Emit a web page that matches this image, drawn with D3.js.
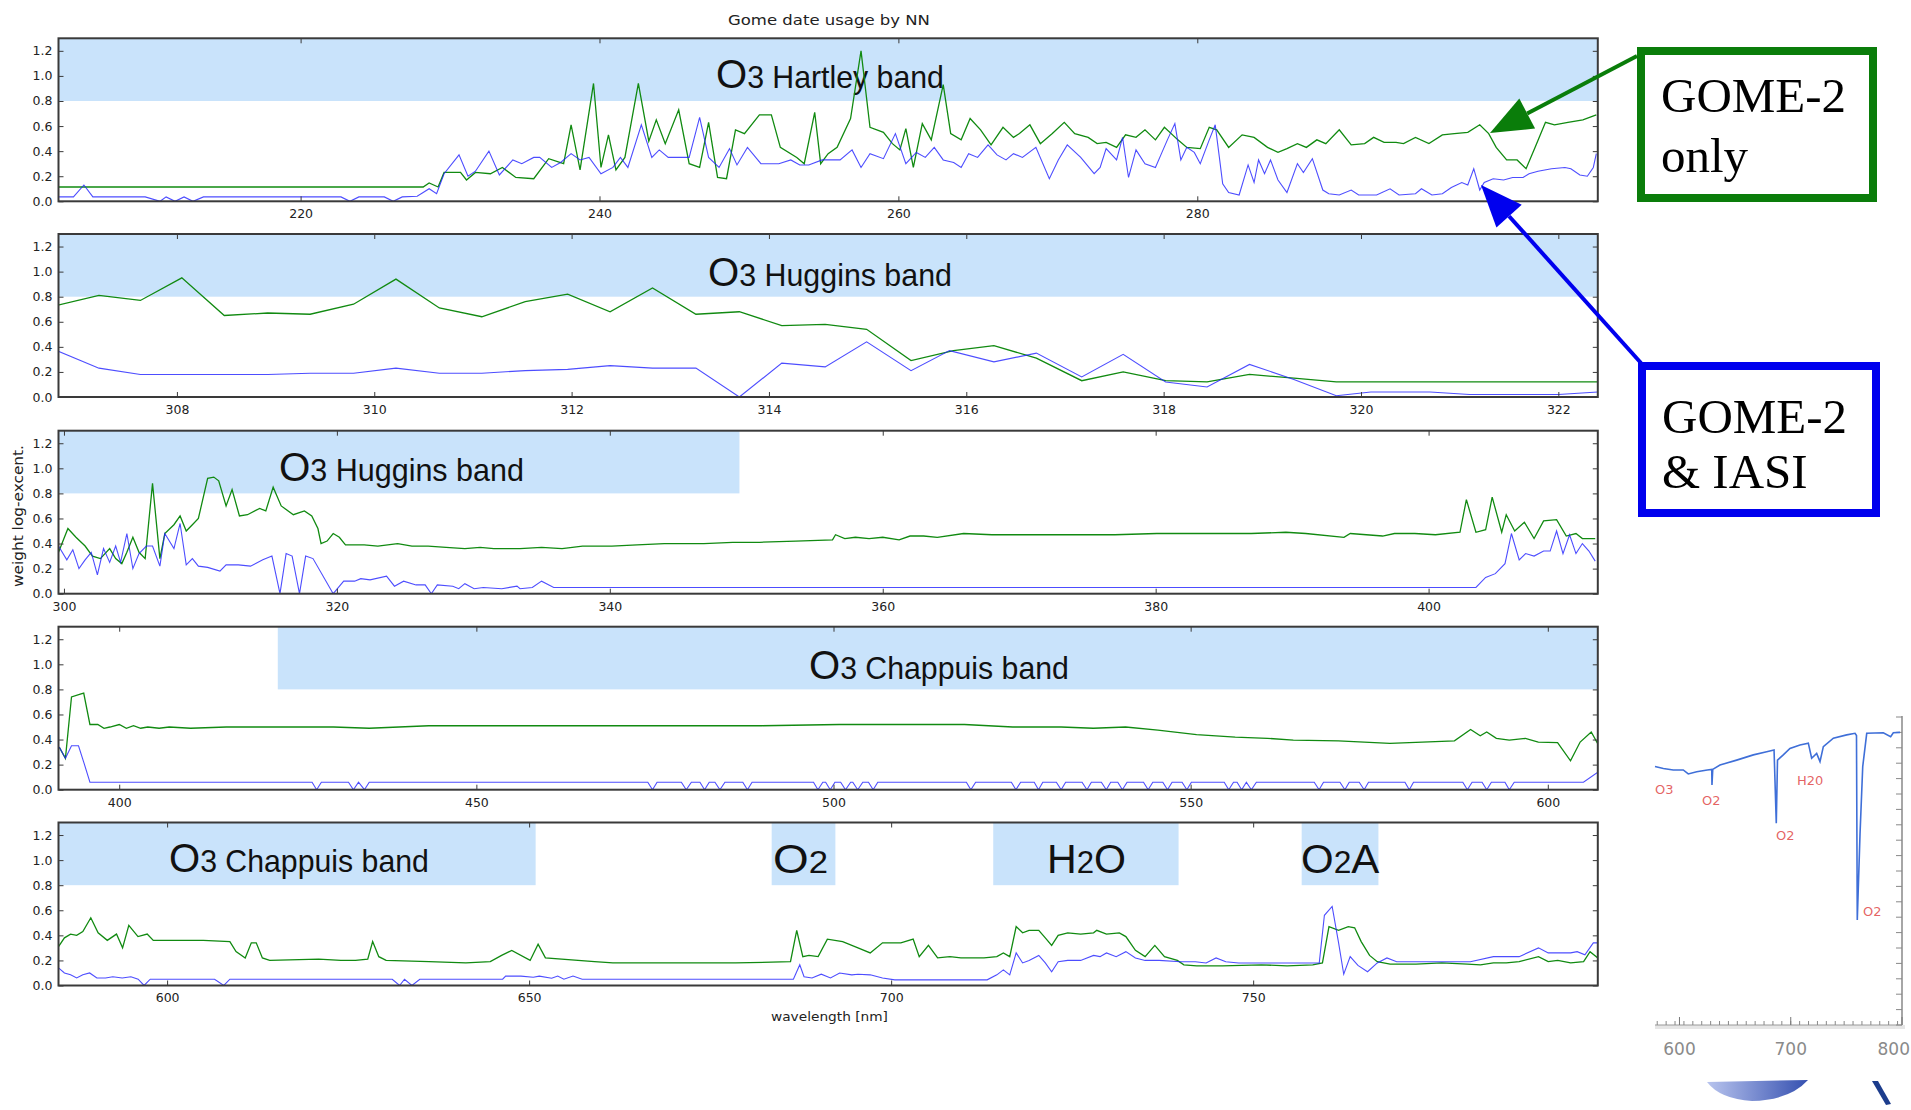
<!DOCTYPE html>
<html><head><meta charset="utf-8">
<script src="https://cdn.jsdelivr.net/npm/d3@7"></script>
<style>html,body{margin:0;padding:0;background:#fff;overflow:hidden}</style>
</head><body>
<svg id="c" width="1911" height="1110"></svg>
<script>
// ---------------- DATA ----------------
const titleText = "Gome date usage by NN";
const yLabelText = "weight log-excent.";
const xLabelText = "wavelength [nm]";
const yTicks = [0.0, 0.2, 0.4, 0.6, 0.8, 1.0, 1.2];
const yDomain = [0, 1.3];
const bandRange = [0.8, 1.3];

const p1Domain = [203.8, 306.8];
const p1Ticks = [220, 240, 260, 280];
const p1Bands = [[203.8, 306.8]];
const p2Domain = [306.8, 322.4];
const p2Ticks = [308, 310, 312, 314, 316, 318, 320, 322];
const p2Bands = [[306.8, 322.4]];
const p3Domain = [299.6, 412.4];
const p3Ticks = [300, 320, 340, 360, 380, 400];
const p3Bands = [[299.6, 349.5]];
const p4Domain = [391.5, 607];
const p4Ticks = [400, 450, 500, 550, 600];
const p4Bands = [[422.2, 607]];
const p5Domain = [585, 797.6];
const p5Ticks = [600, 650, 700, 750];
const p5Bands = [[585, 650.9], [683.5, 692.3], [714.1, 739.7], [756.7, 767.3]];

const labelHartley = [["O", 1], ["3 Hartley band", 0]];
const labelHuggins = [["O", 1], ["3 Huggins band", 0]];
const labelChappuis = [["O", 1], ["3 Chappuis band", 0]];
const labelO2 = [["O", 1], ["2", 0]];
const labelH2O = [["H", 1], ["2", 0], ["O", 1]];
const labelO2A = [["O", 1], ["2", 0], ["A", 1]];

const p1Green = [[203.8,0.114],[228.2,0.114],[228.6,0.146],[229.2,0.114],[229.6,0.23],[230.7,0.23],[231.1,0.17],[231.7,0.23],[232.7,0.22],[233.5,0.27],[234.4,0.19],[235.6,0.18],[236.6,0.34],[237.6,0.30],[238.1,0.61],[238.7,0.25],[239.6,0.94],[240.1,0.27],[240.6,0.53],[241.1,0.25],[241.7,0.35],[242.6,0.94],[243.3,0.48],[243.8,0.65],[244.4,0.46],[245.3,0.73],[246.0,0.30],[246.7,0.27],[247.3,0.63],[247.9,0.19],[248.5,0.18],[249.1,0.57],[249.7,0.54],[250.7,0.69],[251.5,0.69],[252.1,0.43],[253.2,0.35],[253.7,0.30],[254.4,0.71],[254.8,0.30],[255.3,0.38],[255.9,0.43],[256.8,0.66],[257.5,1.20],[258.1,0.59],[259.0,0.55],[259.6,0.46],[260.1,0.41],[260.5,0.58],[261.0,0.27],[261.6,0.62],[262.2,0.49],[263.0,0.93],[263.5,0.54],[264.2,0.49],[264.8,0.66],[265.5,0.57],[266.2,0.45],[267.0,0.59],[267.7,0.51],[268.1,0.54],[268.8,0.61],[269.5,0.46],[270.3,0.54],[271.1,0.63],[271.8,0.54],[272.7,0.51],[273.3,0.46],[273.9,0.47],[274.6,0.43],[275.2,0.53],[275.9,0.51],[276.5,0.57],[277.2,0.49],[277.8,0.59],[278.7,0.49],[279.3,0.43],[280.2,0.42],[280.8,0.59],[281.3,0.57],[282.1,0.43],[283.0,0.53],[283.8,0.51],[284.7,0.43],[285.4,0.39],[286.0,0.42],[286.7,0.46],[287.3,0.43],[288.0,0.49],[288.6,0.46],[289.5,0.57],[290.3,0.45],[291.2,0.46],[291.8,0.51],[292.5,0.47],[293.3,0.47],[293.8,0.46],[294.6,0.51],[295.5,0.46],[296.4,0.53],[297.2,0.54],[298.1,0.55],[298.9,0.61],[299.5,0.54],[300.0,0.43],[300.7,0.33],[301.4,0.33],[302.0,0.26],[302.6,0.43],[303.3,0.63],[303.9,0.61],[304.8,0.63],[305.8,0.65],[306.7,0.69]];
const p1Blue = [[203.8,0.035],[204.8,0.035],[205.5,0.13],[206.1,0.035],[209.6,0.035],[210.6,0.0],[211.0,0.035],[211.6,0.0],[212.2,0.035],[212.8,0.0],[213.5,0.035],[222.7,0.035],[223.3,0.0],[223.9,0.035],[225.6,0.035],[226.2,0.0],[226.8,0.035],[227.8,0.04],[228.2,0.07],[228.6,0.1],[229.1,0.06],[229.6,0.22],[230.6,0.37],[231.2,0.2],[231.7,0.24],[232.6,0.4],[233.3,0.21],[234.2,0.33],[234.8,0.3],[235.6,0.35],[236.0,0.35],[236.8,0.27],[237.4,0.31],[238.1,0.38],[238.7,0.33],[239.3,0.35],[240.1,0.22],[240.9,0.27],[241.4,0.35],[241.9,0.27],[242.8,0.61],[243.5,0.35],[244.0,0.41],[244.6,0.35],[245.4,0.35],[246.0,0.35],[246.7,0.67],[247.3,0.35],[248.0,0.27],[248.7,0.42],[249.2,0.29],[249.9,0.43],[250.8,0.3],[251.4,0.3],[252.0,0.3],[252.8,0.33],[253.4,0.29],[254.0,0.29],[254.9,0.33],[255.5,0.33],[256.1,0.33],[256.9,0.41],[257.5,0.27],[258.1,0.38],[259.0,0.34],[259.8,0.54],[260.5,0.3],[261.2,0.39],[261.8,0.35],[262.4,0.43],[263.0,0.33],[263.7,0.31],[264.2,0.27],[264.7,0.38],[265.3,0.35],[266.0,0.45],[266.6,0.37],[267.2,0.33],[267.7,0.38],[268.3,0.35],[269.2,0.43],[270.1,0.18],[270.7,0.33],[271.3,0.45],[272.2,0.35],[273.1,0.22],[273.5,0.27],[273.9,0.42],[274.6,0.33],[275.0,0.51],[275.4,0.19],[275.9,0.41],[276.5,0.3],[277.2,0.27],[277.6,0.38],[278.0,0.49],[278.5,0.62],[278.9,0.33],[279.3,0.43],[279.8,0.39],[280.2,0.3],[280.8,0.49],[281.2,0.61],[281.5,0.33],[281.7,0.14],[282.1,0.07],[282.8,0.05],[283.4,0.29],[283.8,0.15],[284.1,0.33],[284.5,0.22],[284.9,0.33],[285.4,0.17],[286.0,0.07],[286.7,0.3],[287.1,0.23],[287.7,0.34],[288.4,0.09],[288.8,0.06],[289.5,0.05],[290.3,0.09],[290.8,0.05],[292.0,0.05],[292.9,0.1],[293.5,0.05],[294.6,0.06],[295.0,0.1],[295.7,0.05],[296.4,0.06],[297.0,0.11],[297.7,0.15],[298.1,0.13],[298.5,0.26],[298.9,0.09],[299.2,0.15],[299.8,0.18],[300.5,0.17],[301.1,0.19],[301.8,0.19],[302.2,0.22],[302.8,0.24],[303.7,0.26],[304.6,0.27],[305.0,0.26],[305.6,0.21],[306.1,0.2],[306.5,0.27],[306.7,0.38]];

const p2Green = [[306.78,0.73],[307.21,0.81],[307.63,0.77],[308.05,0.95],[308.48,0.65],[308.92,0.67],[309.35,0.66],[309.79,0.74],[310.22,0.94],[310.66,0.71],[311.09,0.64],[311.53,0.76],[311.96,0.82],[312.39,0.68],[312.82,0.87],[313.26,0.66],[313.7,0.68],[314.13,0.57],[314.57,0.58],[314.99,0.54],[315.44,0.29],[315.87,0.37],[316.28,0.41],[316.71,0.31],[317.17,0.13],[317.59,0.2],[318.02,0.13],[318.44,0.12],[318.87,0.18],[319.32,0.15],[319.75,0.12],[322.4,0.12]];
const p2Blue = [[306.78,0.37],[307.21,0.23],[307.63,0.18],[308.05,0.18],[308.48,0.18],[308.92,0.18],[309.35,0.19],[309.79,0.19],[310.22,0.23],[310.66,0.19],[311.09,0.19],[311.53,0.21],[311.96,0.22],[312.39,0.25],[312.82,0.23],[313.26,0.23],[313.7,0.0],[314.13,0.27],[314.57,0.24],[314.99,0.44],[315.44,0.21],[315.83,0.37],[316.28,0.28],[316.71,0.35],[317.17,0.16],[317.59,0.34],[318.02,0.12],[318.44,0.08],[318.87,0.26],[319.32,0.14],[319.75,0.01],[320.1,0.04],[320.7,0.04],[321.1,0.02],[322.0,0.02],[322.2,0.03],[322.4,0.04]];

const p3Green = [[299.6,0.33],[300.29,0.52],[300.88,0.45],[301.55,0.38],[302.09,0.3],[302.67,0.28],[303.35,0.36],[303.79,0.28],[304.24,0.24],[304.61,0.33],[305.05,0.45],[305.5,0.33],[305.95,0.28],[306.49,0.88],[307.03,0.28],[307.39,0.48],[308.06,0.55],[308.51,0.62],[308.96,0.5],[309.41,0.55],[309.85,0.6],[310.53,0.92],[310.98,0.93],[311.34,0.9],[311.88,0.7],[312.32,0.83],[312.86,0.62],[313.45,0.63],[314.34,0.68],[314.79,0.66],[315.33,0.85],[315.92,0.7],[316.81,0.63],[317.62,0.66],[318.16,0.62],[318.61,0.52],[318.84,0.4],[319.28,0.42],[319.73,0.48],[320.18,0.45],[320.63,0.39],[322,0.39],[323,0.38],[324.45,0.4],[325.5,0.38],[326.69,0.38],[328,0.37],[329.38,0.36],[330.5,0.37],[331.5,0.36],[333.42,0.36],[335,0.37],[336.5,0.36],[338,0.38],[340.15,0.38],[342,0.39],[344,0.4],[346.89,0.4],[349,0.41],[351,0.41],[353.63,0.42],[356.32,0.43],[356.54,0.47],[357.22,0.44],[358,0.45],[359,0.44],[360,0.45],[361.2,0.43],[362,0.46],[363,0.46],[364,0.45],[365.93,0.48],[368,0.47],[370.65,0.47],[373,0.47],[375.37,0.47],[377,0.47],[380.09,0.48],[382,0.48],[384.82,0.48],[387,0.48],[389.54,0.49],[391,0.48],[393.8,0.45],[394.26,0.48],[396.63,0.46],[397.5,0.48],[398.99,0.48],[400.5,0.47],[402.3,0.49],[402.77,0.75],[403.47,0.49],[404.18,0.51],[404.66,0.77],[405.36,0.49],[405.69,0.63],[406.31,0.5],[407.02,0.57],[407.73,0.44],[408.43,0.58],[409.38,0.59],[410.09,0.46],[410.8,0.48],[411.27,0.44],[412.21,0.44]];
const p3Blue = [[299.6,0.38],[300.21,0.27],[300.65,0.35],[301.1,0.2],[301.55,0.27],[302.0,0.33],[302.45,0.15],[302.9,0.36],[303.35,0.25],[303.79,0.38],[304.15,0.25],[304.61,0.48],[305.05,0.2],[305.5,0.32],[306.04,0.38],[306.49,0.38],[307.03,0.22],[307.39,0.48],[308.06,0.36],[308.51,0.56],[308.96,0.23],[309.41,0.28],[309.85,0.22],[310.53,0.21],[311.43,0.18],[311.88,0.23],[312.78,0.23],[313.67,0.22],[314.57,0.27],[315.24,0.3],[315.83,0.0],[316.28,0.32],[316.72,0.3],[317.26,0.0],[317.71,0.3],[318.25,0.28],[319.73,0.0],[320.5,0.1],[321.3,0.1],[321.75,0.12],[322.43,0.11],[323.64,0.14],[324.22,0.06],[324.89,0.1],[325.8,0.07],[326.47,0.07],[326.92,0.0],[327.36,0.07],[328.49,0.06],[328.93,0.04],[329.38,0.08],[330.06,0.04],[330.73,0.05],[332.08,0.04],[333.2,0.06],[333.42,0.04],[334.32,0.05],[335.0,0.1],[335.89,0.05],[403.47,0.05],[404.18,0.13],[404.89,0.16],[405.6,0.24],[406.07,0.48],[406.64,0.27],[407.11,0.32],[407.73,0.3],[408.43,0.34],[408.91,0.34],[409.38,0.5],[409.85,0.32],[410.33,0.47],[410.8,0.32],[411.27,0.4],[411.75,0.34],[412.21,0.26]];

const p4Green = [[391.6,0.34],[392.47,0.25],[393.32,0.74],[394.44,0.76],[395.03,0.77],[395.9,0.52],[397.0,0.52],[397.87,0.49],[398.7,0.5],[400.01,0.52],[401,0.49],[402,0.51],[403,0.49],[404,0.5],[405.59,0.49],[407,0.5],[410,0.49],[415,0.5],[421.89,0.5],[430,0.5],[435,0.49],[443.34,0.51],[455,0.51],[469.07,0.51],[480,0.51],[490,0.51],[500.8,0.52],[509.3,0.52],[518.33,0.52],[525.09,0.5],[531.86,0.5],[536.38,0.49],[540.89,0.5],[545.41,0.475],[550.83,0.44],[556.24,0.42],[560.76,0.41],[564.37,0.395],[570.68,0.39],[577.9,0.37],[586.93,0.39],[589.19,0.48],[590.54,0.43],[591.45,0.46],[592.8,0.41],[594.61,0.395],[596.86,0.41],[598.67,0.38],[601.37,0.375],[603.18,0.23],[604.53,0.38],[606.08,0.46],[606.97,0.37]];
const p4Blue = [[391.6,0.34],[392.47,0.25],[393.32,0.35],[394.3,0.35],[395.03,0.22],[395.9,0.06],[427.0,0.06],[427.64,0.0],[428.3,0.06],[432.1,0.06],[432.79,0.0],[433.5,0.06],[434.33,0.0],[435.0,0.06],[474.0,0.06],[474.66,0.0],[475.3,0.06],[478.7,0.06],[479.38,0.0],[480.1,0.06],[481.3,0.06],[481.95,0.0],[482.6,0.06],[483.4,0.06],[484.1,0.0],[484.8,0.06],[487.3,0.06],[487.95,0.0],[488.6,0.06],[497.2,0.06],[497.82,0.0],[498.5,0.06],[498.9,0.06],[499.54,0.0],[500.2,0.06],[501.0,0.06],[501.68,0.0],[502.4,0.06],[502.7,0.06],[503.39,0.0],[504.1,0.06],[504.9,0.06],[505.55,0.0],[506.2,0.06],[518.6,0.06],[519.23,0.0],[519.9,0.06],[524.9,0.06],[525.54,0.0],[526.2,0.06],[528.1,0.06],[528.7,0.0],[529.3,0.06],[531.2,0.06],[531.87,0.0],[532.5,0.06],[534.8,0.06],[535.48,0.0],[536.1,0.06],[537.5,0.06],[538.19,0.0],[538.8,0.06],[539.8,0.06],[540.44,0.0],[541.1,0.06],[543.4,0.06],[544.05,0.0],[544.7,0.06],[546.1,0.06],[546.76,0.0],[547.4,0.06],[548.8,0.06],[549.47,0.0],[550.1,0.06],[554.7,0.06],[555.33,0.0],[556.0,0.06],[556.5,0.06],[557.14,0.0],[557.8,0.06],[558.5,0.0],[559.2,0.06],[567.3,0.06],[567.98,0.0],[568.6,0.06],[570.9,0.06],[571.59,0.0],[572.2,0.06],[573.6,0.06],[574.29,0.0],[574.9,0.06],[580.0,0.06],[580.61,0.0],[581.2,0.06],[588.1,0.06],[588.74,0.0],[589.4,0.06],[590.8,0.06],[591.45,0.0],[592.1,0.06],[594.0,0.06],[594.61,0.0],[595.3,0.06],[604.99,0.06],[607,0.14]];

const p5Green = [[585.0,0.31],[585.82,0.38],[586.67,0.41],[587.51,0.40],[588.36,0.43],[589.46,0.54],[590.47,0.42],[591.74,0.36],[593.01,0.41],[593.85,0.30],[594.71,0.48],[595.98,0.39],[597.25,0.41],[598.09,0.36],[602.32,0.36],[605,0.36],[608.67,0.35],[609.52,0.27],[610.79,0.22],[611.63,0.34],[612.31,0.34],[613.16,0.22],[614.17,0.2],[620.94,0.21],[624,0.2],[626.02,0.2],[627.71,0.21],[628.39,0.35],[629.24,0.23],[630.25,0.2],[636.17,0.19],[641.26,0.18],[644.64,0.19],[646.2,0.24],[647.6,0.28],[650.14,0.2],[651.24,0.33],[652.25,0.22],[659.03,0.19],[661.56,0.18],[670.03,0.18],[678.5,0.18],[686.1,0.19],[686.96,0.44],[687.8,0.23],[688.65,0.24],[689.92,0.23],[691.19,0.37],[693.3,0.35],[695.42,0.3],[697.11,0.26],[698.81,0.34],[701.34,0.34],[703.04,0.37],[703.88,0.23],[705.15,0.32],[706.42,0.22],[708.12,0.23],[709.64,0.22],[711.04,0.22],[712.82,0.22],[714.6,0.23],[715.5,0.26],[716.38,0.23],[717.27,0.47],[718.16,0.42],[719.05,0.44],[720.39,0.44],[721.29,0.38],[722.17,0.32],[723.07,0.4],[724.39,0.42],[726.17,0.41],[727.96,0.42],[728.4,0.44],[729.74,0.41],[731.52,0.42],[732.42,0.39],[733.74,0.28],[735.08,0.23],[736.42,0.32],[737.75,0.23],[739.53,0.2],[740.43,0.165],[742.21,0.157],[745.77,0.157],[751.12,0.165],[754.68,0.157],[758.23,0.165],[759.57,0.18],[760.47,0.47],[761.8,0.44],[763.14,0.47],[764.02,0.46],[764.92,0.35],[766.08,0.24],[767.14,0.19],[768.92,0.17],[772.49,0.17],[776.05,0.18],[779.61,0.17],[781.39,0.165],[783.18,0.18],[784.96,0.18],[786.74,0.19],[789.41,0.23],[790.75,0.19],[792.07,0.2],[793.85,0.18],[795.64,0.19],[796.53,0.27],[797.6,0.22]];
const p5Blue = [[585.0,0.14],[585.82,0.1],[586.67,0.085],[587.51,0.06],[588.36,0.085],[589.3,0.1],[590.3,0.06],[591.5,0.06],[592.5,0.07],[593.8,0.06],[595.0,0.07],[596.0,0.05],[596.82,0.0],[597.67,0.05],[606.56,0.05],[607.83,0.0],[608.67,0.05],[631.1,0.05],[632.11,0.0],[632.79,0.05],[633.81,0.0],[634.9,0.05],[646.34,0.05],[646.76,0.075],[648.87,0.075],[650.57,0.066],[651.41,0.075],[653.11,0.058],[653.95,0.075],[654.8,0.05],[656.06,0.075],[657.33,0.05],[686.5,0.05],[687.38,0.165],[687.97,0.07],[689.07,0.06],[690.35,0.09],[691.62,0.06],[692.89,0.1],[694.57,0.085],[695.42,0.09],[697.11,0.085],[698.81,0.06],[700.5,0.045],[713.26,0.045],[714.6,0.085],[715.5,0.125],[716.38,0.085],[717.27,0.26],[718.16,0.18],[719.05,0.2],[720.39,0.24],[721.29,0.18],[722.17,0.11],[723.07,0.19],[724.39,0.2],[726.17,0.2],[727.96,0.24],[728.85,0.23],[729.74,0.26],[731.08,0.23],[732.42,0.27],[733.74,0.22],[735.08,0.2],[737,0.2],[739.99,0.19],[742,0.19],[743.5,0.18],[744.88,0.22],[746.22,0.19],[748,0.18],[751,0.18],[755,0.18],[758.23,0.18],[759.13,0.18],[759.84,0.56],[760.91,0.63],[761.8,0.34],[762.51,0.09],[763.4,0.23],[764.47,0.16],[765.8,0.11],[767.14,0.18],[768.48,0.22],[769.82,0.19],[775,0.19],[780,0.19],[783.18,0.23],[786.74,0.23],[789.41,0.3],[790.75,0.26],[793.85,0.26],[794.75,0.27],[795.82,0.245],[796.98,0.34],[797.6,0.34]];

// inset spectrum (wavelength nm, relative transmission)
const insetDomain = [578, 800];
const insetTickLabels = [600, 700, 800];
const insetSpectrum = [[578.0,0.839],[585.5,0.833],[594.4,0.828],[603.4,0.828],[607.9,0.815],[615.5,0.822],[625.0,0.828],[629.0,0.83],[629.2,0.779],[629.9,0.83],[636.4,0.844],[651.4,0.86],[666.4,0.877],[678.4,0.887],[685.0,0.893],[687.0,0.655],[688.1,0.86],[693.3,0.877],[699.3,0.898],[708.3,0.909],[715.8,0.915],[718.8,0.866],[723.3,0.882],[726.3,0.855],[729.3,0.904],[738.3,0.931],[750.3,0.942],[757.8,0.947],[759.1,0.94],[759.8,0.341],[762.3,0.623],[764.7,0.839],[768.3,0.947],[783.2,0.949],[789.8,0.936],[792.2,0.949],[798.2,0.95]];
const insetLabels = ["O3", "O2", "O2", "H20", "O2"];
const annGreenText = ["GOME-2", "only"];
const annBlueText = ["GOME-2", "& IASI"];

// ---------------- LAYOUT ----------------
const svg = d3.select('#c');
const PL = 58.5, PR = 1597.8, PH = 163;
const GREEN = "#118a11", BLUE = "#2020ff", BAND = "#c9e3fb", FRAME = "#3a3a3a";
const tickFont = "'DejaVu Sans', sans-serif";
const bandFont = "'Liberation Sans Narrow', 'Arial Narrow', 'Liberation Sans', Arial, sans-serif";

const panels = [
  {top:38.3, domain:p1Domain, ticks:p1Ticks, bands:p1Bands, green:p1Green, blue:p1Blue,
   labels:[{t:labelHartley, x0:716, x1:944, y:88}]},
  {top:234, domain:p2Domain, ticks:p2Ticks, bands:p2Bands, green:p2Green, blue:p2Blue,
   labels:[{t:labelHuggins, x0:708, x1:952, y:286}]},
  {top:430.7, domain:p3Domain, ticks:p3Ticks, bands:p3Bands, green:p3Green, blue:p3Blue,
   labels:[{t:labelHuggins, x0:279, x1:524, y:481}]},
  {top:626.7, domain:p4Domain, ticks:p4Ticks, bands:p4Bands, green:p4Green, blue:p4Blue,
   labels:[{t:labelChappuis, x0:809, x1:1069, y:679}]},
  {top:822.5, domain:p5Domain, ticks:p5Ticks, bands:p5Bands, green:p5Green, blue:p5Blue,
   labels:[{t:labelChappuis, x0:169, x1:429, y:872},{t:labelO2, x0:773, x1:828, y:873},
           {t:labelH2O, x0:1047, x1:1126, y:873},{t:labelO2A, x0:1301, x1:1380, y:873}]}
];

function fitText(t, x0, x1, y) {
  const w = t.node().getBBox().width;
  const sx = (x1 - x0) / w;
  t.attr('transform', `translate(${x0},${y}) scale(${sx},1)`);
}

panels.forEach((p, i) => {
  const g = svg.append('g');
  const x = d3.scaleLinear().domain(p.domain).range([PL, PR]);
  const y = d3.scaleLinear().domain(yDomain).range([p.top + PH, p.top]);
  const cid = 'clip' + i;
  svg.append('clipPath').attr('id', cid).append('rect')
    .attr('x', PL).attr('y', p.top).attr('width', PR - PL).attr('height', PH);

  g.selectAll('rect.band').data(p.bands).enter().append('rect')
    .attr('x', d => x(d[0])).attr('width', d => x(d[1]) - x(d[0]))
    .attr('y', y(bandRange[1])).attr('height', y(bandRange[0]) - y(bandRange[1]))
    .attr('fill', BAND).attr('clip-path', `url(#${cid})`);

  p.labels.forEach(l => {
    const t = g.append('text').attr('font-family', bandFont).attr('fill', '#111');
    l.t.forEach(seg => t.append('tspan').text(seg[0]).attr('font-size', seg[1] ? 41 : 31));
    fitText(t, l.x0, l.x1, l.y);
  });

  const line = d3.line().x(d => x(d[0])).y(d => y(d[1]));
  g.append('path').datum(p.green).attr('d', line).attr('fill', 'none')
    .attr('stroke', GREEN).attr('stroke-width', 1.3).attr('clip-path', `url(#${cid})`);
  g.append('path').datum(p.blue).attr('d', line).attr('fill', 'none')
    .attr('stroke', BLUE).attr('stroke-width', 1.1).attr('stroke-opacity', 0.8)
    .attr('clip-path', `url(#${cid})`);

  const xb = d3.axisBottom(x).tickValues(p.ticks).tickSizeInner(-5).tickSizeOuter(0).tickPadding(8).tickFormat(d3.format('d'));
  const xt = d3.axisTop(x).tickValues(p.ticks).tickSizeInner(-5).tickSizeOuter(0).tickFormat('');
  const yl = d3.axisLeft(y).tickValues(yTicks).tickSizeInner(-5).tickSizeOuter(0).tickPadding(6).tickFormat(d3.format('.1f'));
  const yr = d3.axisRight(y).tickValues(yTicks).tickSizeInner(-5).tickSizeOuter(0).tickFormat('');
  [[xb, `translate(0,${p.top + PH})`], [xt, `translate(0,${p.top})`], [yl, `translate(${PL},0)`], [yr, `translate(${PR},0)`]]
    .forEach(([ax, tr]) => {
      const a = g.append('g').attr('transform', tr).call(ax);
      a.select('.domain').remove();
      a.selectAll('line').attr('stroke', FRAME).attr('stroke-width', 1);
      a.selectAll('text').attr('font-family', tickFont).attr('font-size', 12.5).attr('fill', '#222');
    });
  g.append('rect').attr('x', PL).attr('y', p.top).attr('width', PR - PL).attr('height', PH)
    .attr('fill', 'none').attr('stroke', FRAME).attr('stroke-width', 2);
});

// title & axis labels
const tt = svg.append('text').text(titleText).attr('font-family', tickFont).attr('font-size', 14).attr('fill', '#222');
fitText(tt, 728, 930, 25);
const xl = svg.append('text').text(xLabelText).attr('font-family', tickFont).attr('font-size', 12.5).attr('fill', '#222');
fitText(xl, 771, 888, 1021);
const yLab = svg.append('text').text(yLabelText).attr('font-family', tickFont).attr('font-size', 13.5)
  .attr('fill', '#222').attr('text-anchor', 'middle');
{
  const w = yLab.node().getBBox().width;
  yLab.attr('transform', `translate(23,516) rotate(-90) scale(${142 / w},1)`);
}

// annotation boxes
function annBox(x0, y0, x1, y1, color, lines, baselines) {
  svg.append('rect').attr('x', x0).attr('y', y0).attr('width', x1 - x0).attr('height', y1 - y0)
    .attr('fill', '#fff').attr('stroke', color).attr('stroke-width', 8);
  lines.forEach((s, i) => svg.append('text').text(s).attr('x', x0 + 20).attr('y', baselines[i])
    .attr('font-family', "'Liberation Serif', 'Times New Roman', serif").attr('font-size', 49).attr('fill', '#000'));
}
function arrow(x0, y0, x1, y1, color) {
  const dx = x1 - x0, dy = y1 - y0, len = Math.hypot(dx, dy), ux = dx / len, uy = dy / len;
  const hl = 42, hw = 17;
  const bx = x1 - ux * hl, by = y1 - uy * hl;
  svg.append('line').attr('x1', x0).attr('y1', y0).attr('x2', bx).attr('y2', by)
    .attr('stroke', color).attr('stroke-width', 4);
  svg.append('path').attr('d', `M${x1},${y1}L${bx - uy * hw},${by + ux * hw}L${bx + uy * hw},${by - ux * hw}Z`)
    .attr('fill', color);
}
annBox(1641, 51, 1873, 198, "#0a7d0a", annGreenText, [112, 172]);
arrow(1637, 56, 1490, 133, "#0a7d0a");
annBox(1642, 366, 1876, 513, "#0000ee", annBlueText, [433, 488]);
arrow(1641, 363, 1481, 185, "#0000ee");

// inset spectrum
const ix = d3.scaleLinear().domain(insetDomain).range([1655, 1902]);
const iy = d3.scaleLinear().domain([0, 1]).range([1025, 717]);
const ig = svg.append('g');
ig.append('rect').attr('x', 1655).attr('y', 1025).attr('width', 250).attr('height', 4).attr('fill', '#e6e6e6');
ig.append('line').attr('x1', 1655).attr('x2', 1902).attr('y1', 1025).attr('y2', 1025).attr('stroke', '#999').attr('stroke-width', 1.2);
ig.append('line').attr('x1', 1902).attr('x2', 1902).attr('y1', 716).attr('y2', 1025).attr('stroke', '#888').attr('stroke-width', 1.5);
ig.selectAll('line.mt').data(d3.range(580, 801, 8)).enter().append('line')
  .attr('x1', d => ix(d)).attr('x2', d => ix(d)).attr('y1', 1025).attr('y2', 1021).attr('stroke', '#888');
ig.selectAll('line.Mt').data(insetTickLabels).enter().append('line')
  .attr('x1', d => ix(d)).attr('x2', d => ix(d)).attr('y1', 1025).attr('y2', 1017).attr('stroke', '#777');
ig.selectAll('line.yt').data(iy.ticks(16)).enter().append('line')
  .attr('x1', 1896).attr('x2', 1902).attr('y1', d => iy(d)).attr('y2', d => iy(d)).attr('stroke', '#888');
ig.selectAll('text.xl').data(insetTickLabels).enter().append('text')
  .attr('x', (d, i) => i < 2 ? ix(d) : 1910).attr('y', 1055)
  .attr('text-anchor', (d, i) => i < 2 ? 'middle' : 'end').text(d => d)
  .attr('font-family', tickFont).attr('font-size', 17).attr('fill', '#8a8a8a');
ig.append('path').datum(insetSpectrum).attr('fill', 'none').attr('stroke', '#3f6fd8').attr('stroke-width', 1.6)
  .attr('d', d3.line().x(d => ix(d[0])).y(d => iy(d[1])));
const labPos = [[1655, 794], [1702, 805], [1776, 840], [1797, 785], [1863, 916]];
insetLabels.forEach((s, i) => ig.append('text').text(s).attr('x', labPos[i][0]).attr('y', labPos[i][1])
  .attr('font-family', tickFont).attr('font-size', 13).attr('fill', '#e04848').attr('fill-opacity', 0.85));

// decorative swooshes
const defs = svg.append('defs');
const gr = defs.append('linearGradient').attr('id', 'sw').attr('x1', 0).attr('x2', 1).attr('y1', 0).attr('y2', 0);
gr.append('stop').attr('offset', 0).attr('stop-color', '#b8c4ee');
gr.append('stop').attr('offset', 1).attr('stop-color', '#3550b0');
svg.append('path').attr('d', 'M1707,1082 L1808,1080 Q1790,1100 1752,1101 Q1720,1099 1707,1082 Z').attr('fill', 'url(#sw)');
svg.append('path').attr('d', 'M1872,1081 L1878,1081 L1891,1104 L1886,1105 Z').attr('fill', '#1c3c8c');
</script>
</body></html>
